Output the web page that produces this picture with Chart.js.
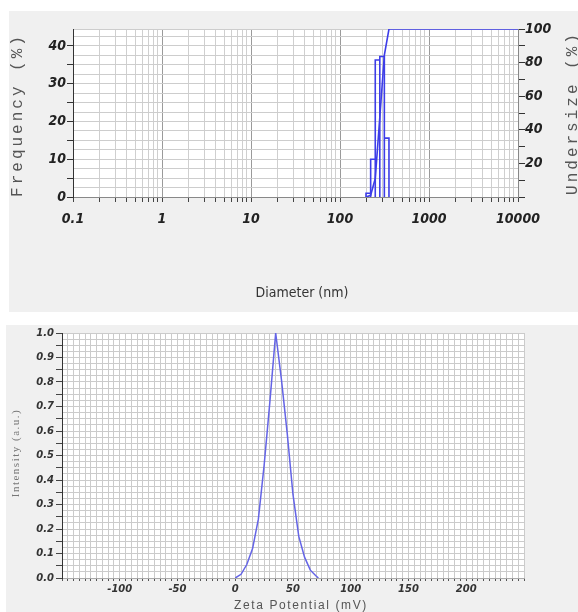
<!DOCTYPE html>
<html>
<head>
<meta charset="utf-8">
<script src="https://cdn.jsdelivr.net/npm/chart.js@4.4.1/dist/chart.umd.min.js"></script>
<style>
  body { margin: 0; background: #fff; width: 578px; height: 612px; position: relative; overflow: hidden; }
  .panel { position: absolute; background: #f0f0f0; }
  #sizePanel { left: 9px; top: 11px; width: 569px; height: 301px; }
  #zetaPanel { left: 6px; top: 325px; width: 572px; height: 287px; }
</style>
</head>
<body>
<div class="panel" id="sizePanel"><canvas id="sizeChart" width="569" height="301"></canvas></div>
<div class="panel" id="zetaPanel"><canvas id="zetaChart" width="572" height="287"></canvas></div>
<script>
// ---- particle size data ----
const binEdges = [196, 221, 249, 280, 315, 355];      // nm
const frequency = [1, 10, 36.3, 37.2, 15.6];          // % per bin
const undersizeDiameter = [196, 221, 249, 280, 315, 355, 10000];
const undersize = [0, 1, 11, 47.3, 84.5, 100, 100];   // cumulative %
const diameterTicks = ['0.1', '1', '10', '100', '1000', '10000'];

// ---- zeta potential data ----
const zetaMv = [0, 5, 10, 15, 20, 25, 30, 35, 40, 45, 50, 55, 60, 65, 70, 72];
const intensity = [0, 0.015, 0.055, 0.12, 0.24, 0.46, 0.72, 1.0, 0.81, 0.59, 0.34, 0.17, 0.085, 0.032, 0.008, 0];
const zetaTicks = ['-100', '-50', '0', '50', '100', '150', '200'];
const intensityTicks = ['0.0', '0.1', '0.2', '0.3', '0.4', '0.5', '0.6', '0.7', '0.8', '0.9', '1.0'];

const condensed = "'Liberation Sans Narrow', 'DejaVu Sans Condensed', 'Liberation Sans', Arial, sans-serif";
const narrowBold = { family: condensed, size: 14, weight: 'bold', style: 'italic' };
const smallBold = { family: "'DejaVu Sans', sans-serif", size: 10, weight: 'bold', style: 'italic' };

function findLabel(list, value) {
    const hit = list.find(t => Math.abs(parseFloat(t) - value) < 1e-6);
    return hit === undefined ? '' : hit;
}

// white plot area + hand drawn axis titles (letter spaced, both side titles read upwards)
const panelDecor = {
    id: 'panelDecor',
    beforeDraw(chart) {
        const { ctx, chartArea: a } = chart;
        ctx.save();
        ctx.fillStyle = '#fff';
        ctx.fillRect(a.left, a.top, a.right - a.left, a.bottom - a.top);
        ctx.restore();
    },
    afterDraw(chart, args, opts) {
        const ctx = chart.ctx;
        (opts.titles || []).forEach(t => {
            ctx.save();
            ctx.font = t.font;
            ctx.fillStyle = t.color;
            ctx.letterSpacing = t.spacing || '0px';
            ctx.textAlign = 'center';
            ctx.textBaseline = 'middle';
            ctx.translate(t.x, t.y);
            if (t.vertical) ctx.rotate(-Math.PI / 2);
            ctx.fillText(t.text, 0, 0);
            ctx.restore();
        });
    }
};

// histogram outline: each bin as an open rectangle standing on zero
const histogramPoints = [];
frequency.forEach((f, i) => {
    histogramPoints.push({ x: binEdges[i], y: 0 });
    histogramPoints.push({ x: binEdges[i], y: f });
    histogramPoints.push({ x: binEdges[i + 1], y: f });
    histogramPoints.push({ x: binEdges[i + 1], y: 0 });
});

const decades = diameterTicks.map(parseFloat);
const logGrid = [];
decades.forEach((d, i) => {
    logGrid.push(d);
    if (i < decades.length - 1) {
        for (let k = 2; k <= 9; k++) logGrid.push(d * k);
    }
});
const isDecade = v => decades.some(d => Math.abs(d - v) < 1e-9);

new Chart(document.getElementById('sizeChart'), {
    type: 'line',
    data: {
        datasets: [
            {
                data: histogramPoints,
                yAxisID: 'y',
                borderColor: '#3d3de8',
                borderWidth: 1.6,
                pointRadius: 0,
                tension: 0
            },
            {
                data: undersizeDiameter.map((d, i) => ({ x: d, y: undersize[i] })),
                yAxisID: 'y1',
                borderColor: '#3d3de8',
                borderWidth: 1.6,
                pointRadius: 0,
                tension: 0
            }
        ]
    },
    options: {
        responsive: false,
        animation: false,
        layout: { padding: { top: 18, left: 0, right: 0, bottom: 0 } },
        plugins: {
            legend: { display: false },
            tooltip: { enabled: false },
            panelDecor: {
                titles: [
                    { text: 'Frequency (%)', x: 9, y: 104, vertical: true, font: "16px 'Liberation Mono', monospace", spacing: '3px', color: '#555' },
                    { text: 'Undersize (%)', x: 564, y: 102, vertical: true, font: "16px 'Liberation Mono', monospace", spacing: '3px', color: '#555' },
                    { text: 'Diameter (nm)', x: 293, y: 282, font: "14px " + condensed, color: '#333' }
                ]
            }
        },
        scales: {
            x: {
                type: 'logarithmic',
                min: 0.1,
                max: 10000,
                afterBuildTicks: s => { s.ticks = logGrid.map(v => ({ value: v })); },
                afterFit: s => { s.height = 115; },
                ticks: { autoSkip: false, maxRotation: 0, padding: 9, color: '#222', font: narrowBold,
                         callback: v => findLabel(diameterTicks, v) },
                grid: { color: c => (c.tick && isDecade(c.tick.value)) ? '#9a9a9a' : '#cfcfcf',
                        tickColor: '#444', tickLength: 5 },
                border: { color: '#888' }
            },
            y: {
                position: 'left',
                min: 0,
                max: 44.5,
                afterBuildTicks: s => {
                    const t = [];
                    for (let v = 0; v <= 42.5; v += 2.5) t.push({ value: v });
                    t.push({ value: 44.5 });
                    s.ticks = t;
                },
                afterFit: s => { s.width = 64; },
                ticks: { autoSkip: false, padding: 1, color: '#222', font: narrowBold,
                         callback: v => (v % 10 === 0 ? String(v) : '') },
                grid: { color: '#cdcdcd', tickLength: 6,
                        tickColor: c => (c.tick && c.tick.value % 5 === 0) ? '#333' : 'rgba(0,0,0,0)' },
                border: { color: '#333' }
            },
            y1: {
                position: 'right',
                min: 0,
                max: 100,
                afterBuildTicks: s => {
                    const t = [];
                    for (let v = 0; v <= 100; v += 10) t.push({ value: v });
                    s.ticks = t;
                },
                afterFit: s => { s.width = 60; },
                ticks: { autoSkip: false, padding: 0, color: '#222', font: narrowBold,
                         callback: v => (v % 20 === 0 && v > 0 ? String(v) : '') },
                grid: { drawOnChartArea: false, tickLength: 7, tickColor: '#333' },
                border: { color: '#888' }
            }
        }
    },
    plugins: [panelDecor]
});

const zetaGrid = [];
for (let v = -150; v <= 250; v += 5) zetaGrid.push(v);
const intensityGrid = [];
for (let i = 0; i <= 40; i++) intensityGrid.push(Math.round(i * 25) / 1000);

new Chart(document.getElementById('zetaChart'), {
    type: 'line',
    data: {
        datasets: [{
            data: zetaMv.map((z, i) => ({ x: z, y: intensity[i] })),
            borderColor: '#6464e6',
            borderWidth: 1.5,
            pointRadius: 0,
            tension: 0
        }]
    },
    options: {
        responsive: false,
        animation: false,
        layout: { padding: { top: 7, left: 0, right: 54, bottom: 0 } },
        plugins: {
            legend: { display: false },
            tooltip: { enabled: false },
            panelDecor: {
                titles: [
                    { text: 'Intensity (a.u.)', x: 10, y: 128, vertical: true, font: "11px 'Liberation Serif', serif", spacing: '1.5px', color: '#777' },
                    { text: 'Zeta Potential (mV)', x: 295, y: 281, font: "12px 'Liberation Sans', Arial, sans-serif", spacing: '1.6px', color: '#555' }
                ]
            }
        },
        scales: {
            x: {
                type: 'linear',
                min: -150,
                max: 250,
                afterBuildTicks: s => { s.ticks = zetaGrid.map(v => ({ value: v })); },
                afterFit: s => { s.height = 34; },
                ticks: { autoSkip: false, maxRotation: 0, padding: 2, color: '#333', font: smallBold,
                         callback: v => findLabel(zetaTicks, v) },
                grid: { color: '#cbcbcb', tickColor: '#555', tickLength: 3 },
                border: { color: '#aaa' }
            },
            y: {
                min: 0,
                max: 1,
                afterBuildTicks: s => { s.ticks = intensityGrid.map(v => ({ value: v })); },
                afterFit: s => { s.width = 56; },
                ticks: { autoSkip: false, padding: 2, color: '#333', font: smallBold,
                         callback: v => findLabel(intensityTicks, v) },
                grid: { color: '#cbcbcb', tickLength: 6,
                        tickColor: c => (c.tick && Math.round(c.tick.value * 1000) % 50 === 0) ? '#444' : 'rgba(0,0,0,0)' },
                border: { color: '#333' }
            }
        }
    },
    plugins: [panelDecor]
});
</script>
</body>
</html>
